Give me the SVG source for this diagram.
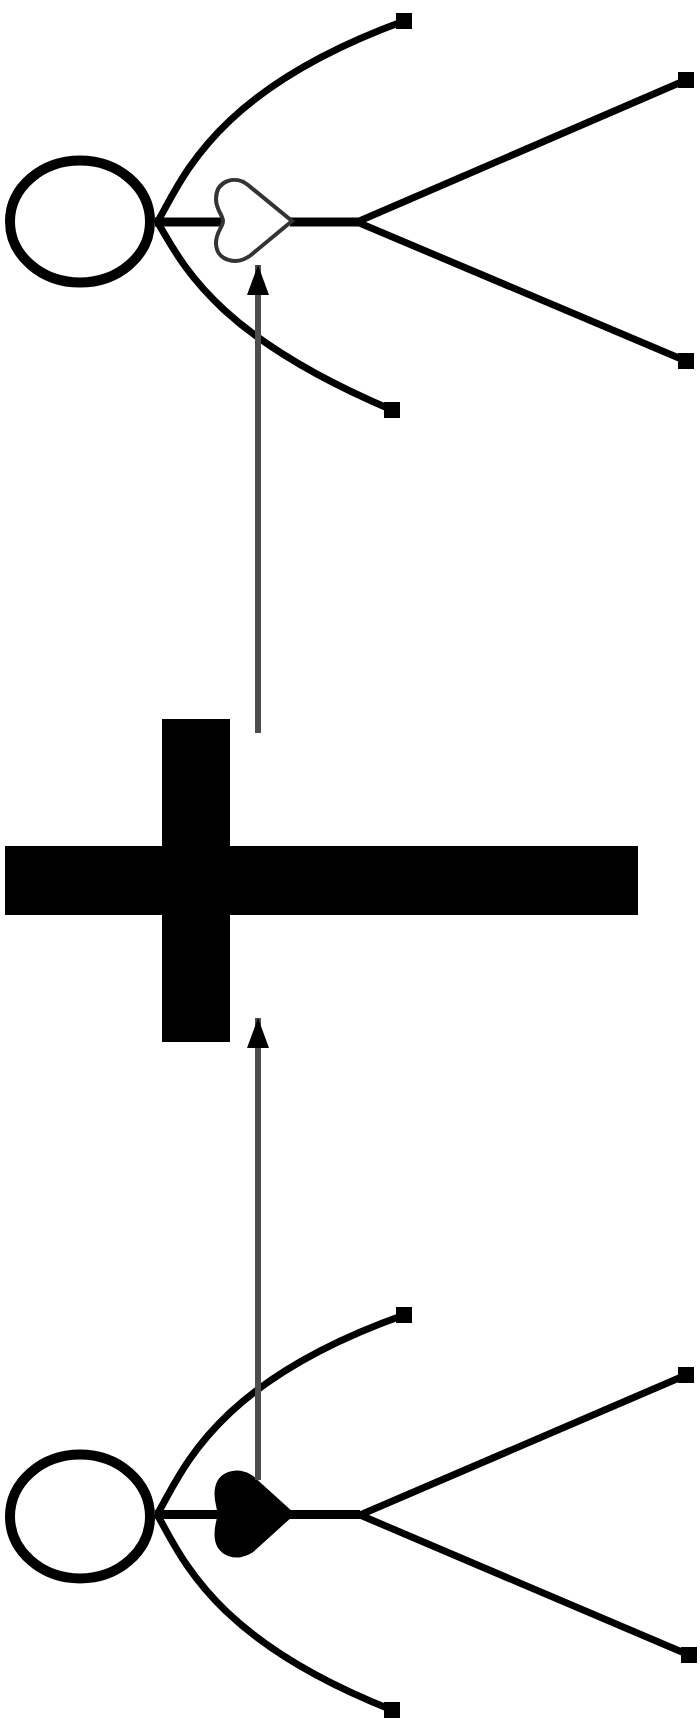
<svg xmlns="http://www.w3.org/2000/svg" width="700" height="1728" viewBox="0 0 700 1728">
<style>
.ring{fill:none;stroke:#000;stroke-width:10}
.ln{fill:none;stroke:#000;stroke-width:7}
.hz{fill:none;stroke:#000;stroke-width:9}
.end{fill:#000}
.heart-o{fill:#fff;stroke:#333;stroke-width:4}
.heart-f{fill:#000;stroke:#000;stroke-width:3}
.conn{fill:none;stroke:#4d4d4d;stroke-width:6}
</style>
<defs>
<marker id="ah" viewBox="0 0 30 22" refX="30" refY="11" markerWidth="30" markerHeight="22" markerUnits="userSpaceOnUse" orient="auto">
<path d="M0,0 L30,11 L0,22 z" fill="#000"/>
</marker>
</defs>
<rect width="700" height="1728" fill="#fff"/>
<g id="top-node">
<ellipse class="ring" cx="80" cy="221.5" rx="70" ry="61"/>
<path class="ln" d="M158,221 C183,178 215,90 404,21"/>
<path class="ln" d="M158,223 C183,265 215,335 392,410"/>
<line class="hz" x1="155" y1="222" x2="224" y2="222"/>
<line class="hz" x1="290" y1="222" x2="358" y2="222"/>
<path class="heart-o" d="M292,221 L248,185 C236,175 216,180 216,199 C216,210 223,215 223,221 C223,227 216,232 216,243 C216,261 237,266 251,255 Z"/>
<line class="ln" x1="357" y1="222" x2="686" y2="80"/>
<line class="ln" x1="357" y1="222" x2="686" y2="361"/>
<rect class="end" x="396" y="13" width="16" height="16"/>
<rect class="end" x="384" y="402" width="16" height="16"/>
<rect class="end" x="678" y="72" width="16" height="16"/>
<rect class="end" x="678" y="353" width="16" height="16"/>
</g>
<g id="cross-node">
<rect x="5" y="846" width="633" height="69" fill="#000"/>
<rect x="162" y="719" width="68" height="323" fill="#000"/>
</g>
<g id="bottom-node">
<ellipse class="ring" cx="80" cy="1516.5" rx="70" ry="62"/>
<path class="ln" d="M158,1513 C183,1470 215,1382 404,1315"/>
<path class="ln" d="M158,1516 C183,1560 215,1640 392,1710"/>
<line class="hz" x1="155" y1="1514.5" x2="360" y2="1514.5"/>
<path class="heart-f" d="M293,1514 L252,1477 C238,1467 216,1472 216,1494 C216,1504 219,1509 219,1514 C219,1519 216,1524 216,1534 C216,1556 238,1561 252,1551 Z"/>
<line class="ln" x1="360" y1="1515" x2="686" y2="1375"/>
<line class="ln" x1="360" y1="1515" x2="689" y2="1655"/>
<rect class="end" x="396" y="1307" width="16" height="16"/>
<rect class="end" x="384" y="1702" width="16" height="16"/>
<rect class="end" x="678" y="1367" width="16" height="16"/>
<rect class="end" x="681" y="1647" width="16" height="16"/>
</g>
<g id="connectors">
<line class="conn" x1="258" y1="733" x2="258" y2="265" marker-end="url(#ah)"/>
<line class="conn" x1="258" y1="1480" x2="258" y2="1018" marker-end="url(#ah)"/>
</g>
</svg>
